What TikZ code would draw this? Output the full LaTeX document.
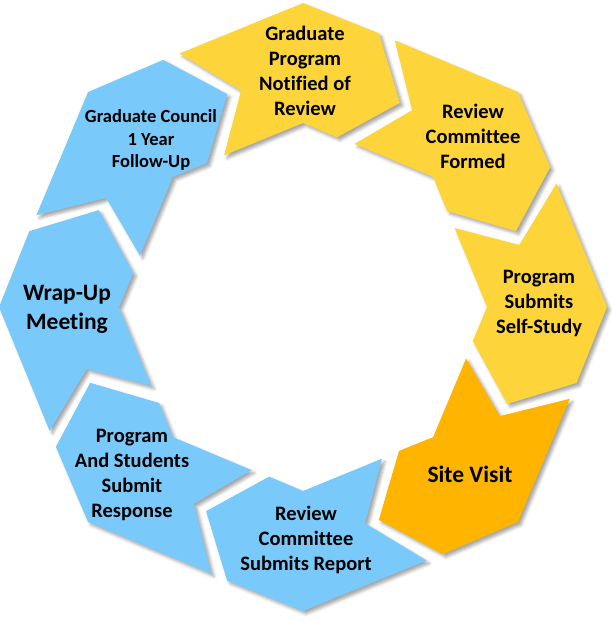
\documentclass[tikz,border=0pt]{standalone}
\usepackage{fontspec}
\setmainfont{Carlito}[Ligatures={NoCommon,NoRare}]
\usetikzlibrary{shadows.blur}
\definecolor{segyellow}{HTML}{FDD43A}
\definecolor{segorange}{HTML}{FFB400}
\definecolor{segblue}{HTML}{7AC9FB}
\begin{document}
\begin{tikzpicture}[x=1pt,y=1pt,
  segshade/.style={blur shadow={shadow xshift=3pt, shadow yshift=-3pt, shadow blur radius=3pt, shadow opacity=35}},
  lbl/.style={font=\bfseries\fontsize{20.5}{25}\selectfont, align=center, text=black},
  lblbig/.style={font=\bfseries\fontsize{23.5}{29}\selectfont, align=center, text=black},
  lblsmall/.style={font=\bfseries\fontsize{18.5}{22.5}\selectfont, align=center, text=black}]
\useasboundingbox (0,-622) rectangle (612,0);
\coordinate (ctr) at (303,-307);
\foreach \k/\c in {0/segyellow,1/segyellow,2/segyellow,3/segorange,4/segblue,5/segblue,6/segblue,7/segblue}{
  \fill[\c, segshade, shift={(ctr)}]
    ({116-45*\k}:282) -- ({90-45*\k}:304) -- ({74.5-45*\k}:284) -- ({64.6-45*\k}:226)
    -- ({78.7-45*\k}:173) -- ({90-45*\k}:184) -- ({117.5-45*\k}:171) -- ({106-45*\k}:225) -- cycle;
}
\node[lbl] (t0) at (305,-71) {Graduate\\Program\\Notified of\\Review};
\node[lbl] (t1) at (473,-136) {Review\\Committee\\Formed};
\node[lbl] (t2) at (539,-303) {Program\\Submits\\Self-Study};
\node[lblbig] (t3) at (470,-474) {Site Visit};
\node[lbl] (t4) at (306,-540) {Review\\Committee\\Submits Report};
\node[lbl] (t5) at (132,-475) {Program\\And Students\\Submit\\Response};
\node[lblbig] (t6) at (67,-309) {Wrap-Up\\Meeting};
\node[lblsmall] (t7) at (151,-140) {Graduate Council\\1 Year\\Follow-Up};
\end{tikzpicture}
\end{document}
